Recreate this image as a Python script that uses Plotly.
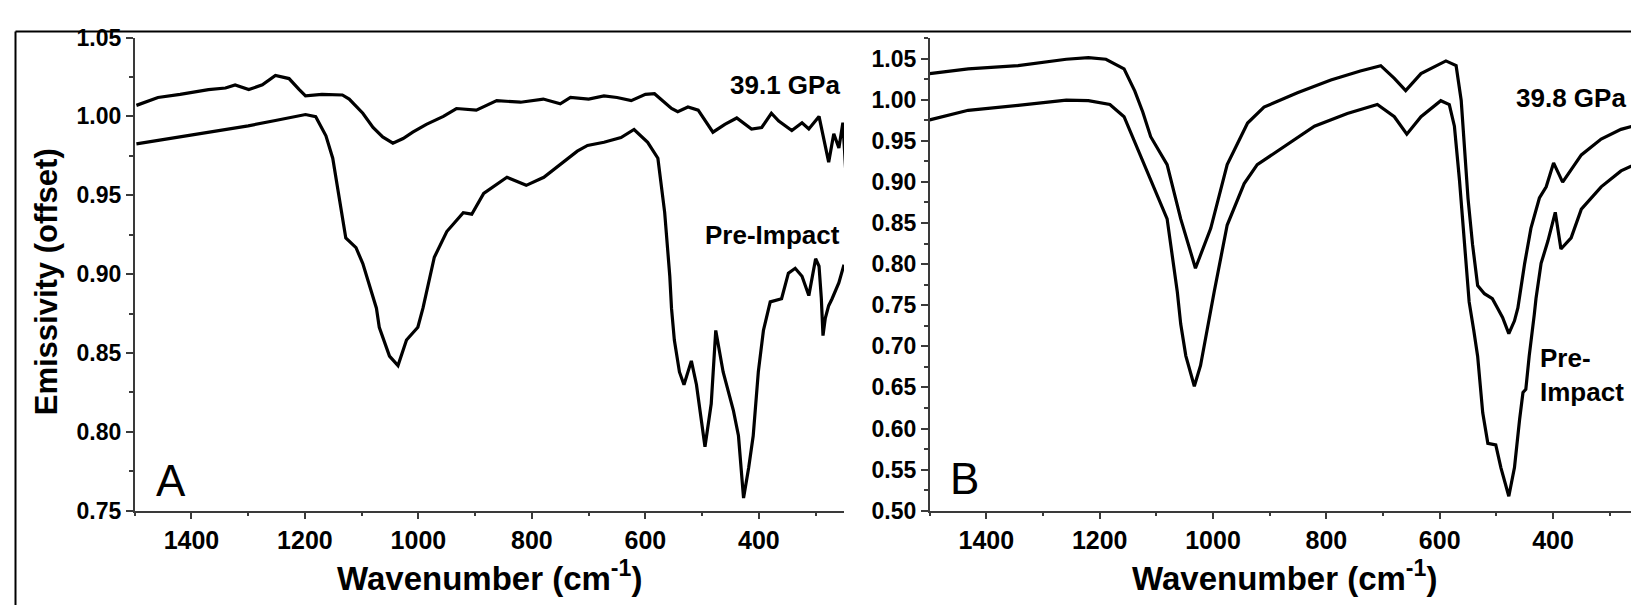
import plotly.graph_objects as go

# ---------------- data ----------------
# Panel A : 39.1 GPa
wn_a_shock = [1497, 1459, 1420, 1370, 1340, 1323, 1299, 1275, 1252, 1228, 1210, 1199, 1170, 1134,
              1122, 1098, 1080, 1063, 1045, 1027, 1010, 986, 956, 933, 898, 862, 820, 780, 750, 732,
              700, 673, 650, 625, 600, 584, 554, 543, 525, 507, 481, 460, 439, 413, 395, 378, 365,
              342, 324, 312, 294, 283, 277, 268, 259, 252, 247]
em_a_shock = [1.007, 1.012, 1.014, 1.017, 1.018, 1.020, 1.017, 1.020, 1.026, 1.024, 1.017, 1.013,
              1.014, 1.0136, 1.011, 1.002, 0.993, 0.987, 0.983, 0.986, 0.990, 0.995, 1.000, 1.005,
              1.004, 1.010, 1.009, 1.011, 1.008, 1.012, 1.011, 1.013, 1.012, 1.010, 1.014, 1.0144,
              1.005, 1.003, 1.006, 1.004, 0.990, 0.995, 0.999, 0.992, 0.993, 1.002, 0.997, 0.991,
              0.996, 0.992, 1.000, 0.982, 0.971, 0.989, 0.980, 0.996, 0.966]

# Panel A : Pre-Impact
wn_a_pre = [1497, 1440, 1370, 1300, 1252, 1199, 1181, 1163, 1151, 1140, 1128, 1110, 1098, 1074,
            1069, 1051, 1036, 1021, 1012, 1001, 992, 972, 950, 921, 906, 885, 844, 810, 779, 750,
            720, 702, 673, 643, 620, 596, 578, 566, 557, 554, 549, 540, 532, 519, 510, 495, 484,
            476, 463, 445, 436, 427, 418, 410, 401, 392, 383, 380, 360, 348, 336, 324, 312, 300,
            294, 290, 287, 283, 277, 271, 259, 250]
em_a_pre = [0.9826, 0.986, 0.9897, 0.994, 0.9974, 1.0012, 0.9998, 0.9877, 0.9735, 0.9492, 0.9229,
            0.9168, 0.9067, 0.8784, 0.8663, 0.848, 0.842, 0.8582, 0.8618, 0.8663, 0.8784, 0.9107,
            0.927, 0.939, 0.938, 0.9512, 0.9614, 0.9563, 0.9614, 0.9694, 0.978, 0.9816, 0.9836,
            0.9866, 0.9917, 0.9836, 0.9735, 0.939, 0.8986, 0.8784, 0.8582, 0.838, 0.8299, 0.845,
            0.8299, 0.7905, 0.8178, 0.8643, 0.838, 0.8137, 0.7975, 0.758, 0.7772, 0.7975, 0.838,
            0.8643, 0.8784, 0.8824, 0.8844, 0.9006, 0.9037, 0.8986, 0.8864, 0.9098, 0.905, 0.885,
            0.861, 0.872, 0.880, 0.8844, 0.8946, 0.906]

# Panel B : 39.8 GPa
wn_b_shock = [1500, 1432, 1344, 1259, 1220, 1189, 1157, 1138, 1124, 1110, 1081, 1057, 1031, 1004,
              975, 939, 910, 851, 792, 740, 704, 680, 660, 633, 589, 571, 562, 556, 550, 542, 533,
              521, 507, 498, 489, 478, 468, 462, 450, 439, 424, 412, 399, 383, 350, 315, 280, 250]
em_b_shock = [1.0317, 1.0375, 1.0414, 1.0492, 1.0512, 1.0492, 1.0375, 1.0104, 0.985, 0.955, 0.921,
              0.855, 0.795, 0.8435, 0.921, 0.9716, 0.991, 1.0084, 1.0239, 1.035, 1.0414, 1.0259,
              1.0111, 1.0317, 1.0472, 1.0414, 0.999, 0.94, 0.88, 0.824, 0.774, 0.764, 0.758,
              0.7466, 0.735, 0.7155, 0.731, 0.7466, 0.8009, 0.8435, 0.8804, 0.894, 0.9231, 0.8998,
              0.9328, 0.9522, 0.9639, 0.9697]

# Panel B : Pre-Impact
wn_b_pre = [1500, 1432, 1344, 1259, 1220, 1182, 1157, 1138, 1119, 1088, 1081, 1063, 1057, 1048,
            1033, 1022, 1010, 998, 975, 945, 922, 880, 821, 763, 710, 680, 658, 633, 598, 583, 574,
            565, 556, 548, 540, 533, 524, 515, 501, 492, 478, 468, 459, 453, 448, 442, 433, 430,
            421, 409, 396, 386, 368, 350, 315, 280, 250]
em_b_pre = [0.9755, 0.9871, 0.993, 0.9995, 0.9988, 0.9941, 0.9793, 0.9483, 0.918, 0.868, 0.8551,
            0.766, 0.727, 0.6884, 0.6514, 0.6767, 0.7233, 0.766, 0.8475, 0.8979, 0.921, 0.9406,
            0.9677, 0.9832, 0.9941, 0.9793, 0.958, 0.9793, 0.9988, 0.9941, 0.9677, 0.9017, 0.8242,
            0.754, 0.72, 0.688, 0.619, 0.582, 0.580, 0.5525, 0.5176, 0.5525, 0.6107, 0.6438,
            0.6476, 0.6884, 0.7388, 0.7582, 0.8009, 0.828, 0.863, 0.8184, 0.8319, 0.8668, 0.894,
            0.9134, 0.9231]

x_ticks = [1400, 1200, 1000, 800, 600, 400]
y_ticks_a = [0.75, 0.80, 0.85, 0.90, 0.95, 1.00, 1.05]
y_ticks_b = [0.50, 0.55, 0.60, 0.65, 0.70, 0.75, 0.80, 0.85, 0.90, 0.95, 1.00, 1.05]

# ---------------- figure ----------------
W, H = 1639, 605
FONT = "Liberation Sans, Arial, sans-serif"


def px(x):
    return x / W


def py(y):
    return 1 - y / H


line = dict(color="black", width=3.2)
fig = go.Figure()
fig.add_trace(go.Scatter(x=wn_a_shock, y=em_a_shock, mode="lines", line=line, xaxis="x", yaxis="y"))
fig.add_trace(go.Scatter(x=wn_a_pre, y=em_a_pre, mode="lines", line=line, xaxis="x", yaxis="y"))
fig.add_trace(go.Scatter(x=wn_b_shock, y=em_b_shock, mode="lines", line=line, xaxis="x2", yaxis="y2"))
fig.add_trace(go.Scatter(x=wn_b_pre, y=em_b_pre, mode="lines", line=line, xaxis="x2", yaxis="y2"))

ax_common = dict(showline=True, linecolor="#3a3a3a", linewidth=1.5, ticks="outside", ticklen=7,
                 tickwidth=1.5, tickcolor="#3a3a3a", showgrid=False, zeroline=False, mirror=False)
xfont = dict(family=FONT, size=25, color="black", weight="bold")
yfont = dict(family=FONT, size=23, color="black", weight="bold")
xminor = dict(dtick=100, ticks="outside", ticklen=4, tickwidth=1.5, tickcolor="#3a3a3a")
yminor = dict(dtick=0.025, ticks="outside", ticklen=4, tickwidth=1.5, tickcolor="#3a3a3a")

ydom = [py(511.7), py(17.3)]
fig.update_layout(
    width=W, height=H, showlegend=False,
    paper_bgcolor="white", plot_bgcolor="white",
    margin=dict(l=0, r=0, t=0, b=0),
    xaxis=dict(domain=[px(126.7), px(836)], range=[1500, 250], anchor="y",
               tickvals=x_ticks, tickfont=xfont, minor=xminor, **ax_common),
    yaxis=dict(domain=ydom, range=[0.75, 1.05], anchor="x",
               tickvals=y_ticks_a, tickformat=".2f", tickfont=yfont, minor=yminor, **ax_common),
    xaxis2=dict(domain=[px(921.7), px(1630)], range=[1500, 250], anchor="y2",
                tickvals=x_ticks, tickfont=xfont, minor=xminor, **ax_common),
    yaxis2=dict(domain=ydom, range=[0.50, 1.0756], anchor="x2",
                tickvals=y_ticks_b, tickformat=".2f", tickfont=yfont, minor=yminor, **ax_common),
)

bold = lambda s: dict(family=FONT, size=s, color="black", weight="bold")
annos = [
    dict(text="Emissivity (offset)", x=px(38), y=py(273), textangle=-90, font=bold(31)),
    dict(text="Wavenumber (cm<sup>-1</sup>)", x=px(481), y=py(580), font=bold(33)),
    dict(text="Wavenumber (cm<sup>-1</sup>)", x=px(1276), y=py(580), font=bold(33)),
    dict(text="39.1 GPa", x=px(834), y=py(67), xanchor="right", font=bold(26)),
    dict(text="Pre-Impact", x=px(834), y=py(224), xanchor="right", font=bold(26)),
    dict(text="39.8 GPa", x=px(1620), y=py(80), xanchor="right", font=bold(26)),
    dict(text="Pre-<br>Impact", x=px(1530), y=py(370), xanchor="left", align="left", font=bold(26)),
    dict(text="A", x=px(146), y=py(480), xanchor="left",
         font=dict(family=FONT, size=44, color="black")),
    dict(text="B", x=px(940), y=py(478), xanchor="left",
         font=dict(family=FONT, size=44, color="black")),
]
for a in annos:
    a.update(xref="paper", yref="paper", showarrow=False)
    a.setdefault("xanchor", "center")
    a.setdefault("yanchor", "middle")
fig.update_layout(annotations=annos)

# outer frame (left and top edges visible in the reference)
fig.add_shape(type="line", xref="paper", yref="paper", x0=px(7.5), x1=px(7.5), y0=-0.05, y1=py(11),
              line=dict(color="black", width=2))
fig.add_shape(type="line", xref="paper", yref="paper", x0=px(7.5), x1=1.01, y0=py(11), y1=py(11),
              line=dict(color="black", width=2))

fig.write_html("out.html")
